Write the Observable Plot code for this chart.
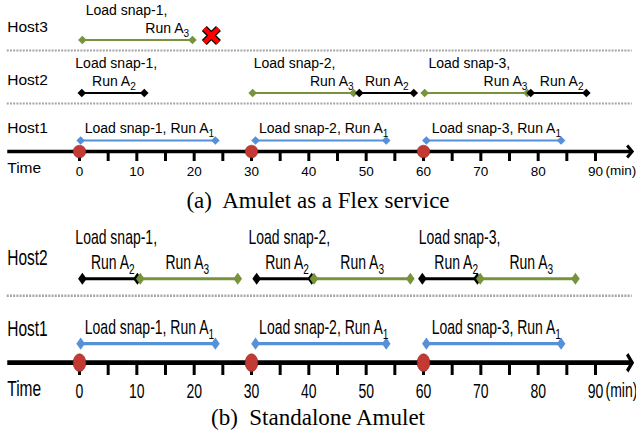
<!DOCTYPE html>
<html><head><meta charset="utf-8">
<script src="https://cdn.jsdelivr.net/npm/d3@7"></script>
<script src="https://cdn.jsdelivr.net/npm/@observablehq/plot@0.6"></script>
<style>
body{margin:0;background:#fff;width:636px;overflow:hidden;}
svg{display:block;}
.cap{font-family:"Liberation Serif","Times New Roman",serif;font-size:23px;text-align:center;height:27px;line-height:27px;white-space:pre;color:#000;}
</style></head>
<body>
<div id="a"></div>
<div class="cap">(a)  Amulet as a Flex service</div>
<div id="b"></div>
<div class="cap">(b)  Standalone Amulet</div>
<script>
// ---------- data ----------
const hostsA = ["Host3", "Host2", "Host1"];
const hostsB = ["Host2", "Host1"];
const tickMarks = [0, 5, 10, 15, 20, 25, 30, 35, 40, 45, 50, 55, 60, 65, 70, 75, 80, 85, 90];
const tickLabels = [0, 10, 20, 30, 40, 50, 60, 70, 80, 90];
const snapshotTimes = [0, 30, 60];
const failuresA = [{host: "Host3", t: 23}];

const segmentsA = [
  {host: "Host3", app: "A3", start: 0.5, end: 19.7},
  {host: "Host2", app: "A2", start: 0.4, end: 11.3},
  {host: "Host2", app: "A3", start: 30.2, end: 47.8},
  {host: "Host2", app: "A2", start: 48.8, end: 58.3},
  {host: "Host2", app: "A3", start: 60.2, end: 78.1},
  {host: "Host2", app: "A2", start: 78.7, end: 88.4},
  {host: "Host1", app: "A1", start: 0.2, end: 23.7},
  {host: "Host1", app: "A1", start: 30.7, end: 53.5},
  {host: "Host1", app: "A1", start: 60.5, end: 84.0}
];
const labelsA = [
  {host: "Host3", line: 1, t: 8.2, text: "Load snap-1,"},
  {host: "Host3", line: 2, t: 15.3, text: "Run A3"},
  {host: "Host2", line: 1, t: 6.4, text: "Load snap-1,"},
  {host: "Host2", line: 2, t: 6.0, text: "Run A2"},
  {host: "Host2", line: 1, t: 37.5, text: "Load snap-2,"},
  {host: "Host2", line: 2, t: 44.0, text: "Run A3"},
  {host: "Host2", line: 2, t: 53.6, text: "Run A2"},
  {host: "Host2", line: 1, t: 68.0, text: "Load snap-3,"},
  {host: "Host2", line: 2, t: 74.3, text: "Run A3"},
  {host: "Host2", line: 2, t: 84.1, text: "Run A2"},
  {host: "Host1", line: 2, t: 12.2, text: "Load snap-1, Run A1"},
  {host: "Host1", line: 2, t: 42.6, text: "Load snap-2, Run A1"},
  {host: "Host1", line: 2, t: 72.7, text: "Load snap-3, Run A1"}
];

const segmentsB = [
  {host: "Host2", app: "A2", start: 0.5, end: 10.1},
  {host: "Host2", app: "A3", start: 10.6, end: 27.6},
  {host: "Host2", app: "A2", start: 30.9, end: 40.5},
  {host: "Host2", app: "A3", start: 40.9, end: 57.7},
  {host: "Host2", app: "A2", start: 59.8, end: 69.4},
  {host: "Host2", app: "A3", start: 69.9, end: 86.5},
  {host: "Host1", app: "A1", start: 0.2, end: 23.7},
  {host: "Host1", app: "A1", start: 30.7, end: 53.5},
  {host: "Host1", app: "A1", start: 60.5, end: 84.0}
];
const labelsB = [
  {host: "Host2", line: 1, t: 6.4, text: "Load snap-1,"},
  {host: "Host2", line: 2, t: 5.8, text: "Run A2"},
  {host: "Host2", line: 2, t: 18.8, text: "Run A3"},
  {host: "Host2", line: 1, t: 36.6, text: "Load snap-2,"},
  {host: "Host2", line: 2, t: 36.2, text: "Run A2"},
  {host: "Host2", line: 2, t: 49.3, text: "Run A3"},
  {host: "Host2", line: 1, t: 66.3, text: "Load snap-3,"},
  {host: "Host2", line: 2, t: 65.7, text: "Run A2"},
  {host: "Host2", line: 2, t: 78.8, text: "Run A3"},
  {host: "Host1", line: 2, t: 12.2, text: "Load snap-1, Run A1"},
  {host: "Host1", line: 2, t: 42.6, text: "Load snap-2, Run A1"},
  {host: "Host1", line: 2, t: 72.7, text: "Load snap-3, Run A1"}
];

// ---------- styling ----------
const appColors = {domain: ["A1", "A2", "A3"], range: ["#5690D8", "#000000", "#77933C"]};
const X0 = -12.6, X1 = 96.4;
const FONT = "'Liberation Sans', Arial, sans-serif";

const diamond = {draw(ctx, size) { const r = Math.sqrt(size / Math.PI); ctx.moveTo(0, -r); ctx.lineTo(r, 0); ctx.lineTo(0, r); ctx.lineTo(-r, 0); ctx.closePath(); }};
const chevron = {draw(ctx, size) { const r = Math.sqrt(size / Math.PI); ctx.moveTo(-r, -r * 1.2); ctx.lineTo(0, 0); ctx.lineTo(-r, r * 1.2); }};

function subscripts(svg) {
  d3.select(svg).selectAll("text").each(function () {
    if (this.childElementCount) return;
    const m = /^(.*A)([0-9])$/.exec(this.textContent);
    if (!m) return;
    this.textContent = m[1];
    const ts = document.createElementNS("http://www.w3.org/2000/svg", "tspan");
    ts.setAttribute("font-size", "0.72em");
    ts.setAttribute("dy", "0.35em");
    ts.textContent = m[2];
    this.appendChild(ts);
  });
}

function panel({hosts, segments, labels, failures, height, yRange, marginBottom, o}) {
  const row = d => hosts.indexOf(d.host) + 1;
  const axisRow = hosts.length;
  const last = hosts[hosts.length - 1];
  const upper = d => d.host !== last;
  const lower = d => d.host === last;
  const ends = segments.flatMap(d => [{...d, t: d.start}, {...d, t: d.end}]);
  const hostObjs = hosts.map(h => ({host: h}));
  const marks = [
    Plot.ruleY(d3.range(1, axisRow), {x1: X0, x2: X1, stroke: "#a6a6a6", strokeWidth: o.sepW, strokeDasharray: "2 1.2"}),
    Plot.axisX({ticks: tickMarks, tickSize: o.tickSize, tickPadding: o.tickPad, fontSize: o.tickFont,
      tickFormat: d => tickLabels.includes(d) ? String(d) : "", strokeWidth: 3, stroke: "black", fill: "black"}),
    Plot.link([axisRow], {x1: X0, x2: X1 - 0.3, y1: d => d, y2: d => d, dy: o.axisDy, stroke: "black", strokeWidth: 3.5}),
    Plot.dot([axisRow], {x: X1, y: d => d, dy: o.axisDy, symbol: chevron, r: 5, stroke: "black", strokeWidth: 3, fill: "none", strokeLinejoin: "miter"}),
    Plot.text(["(min)"], {x: 90, y: axisRow, text: d => d, dx: 10, dy: o.minDy, textAnchor: "start", fontSize: o.tickFont, fill: "black"}),
    Plot.text(["Time"], {x: X0, y: axisRow, text: d => d, dy: o.timeDy, textAnchor: "start", fontSize: 15.5, fill: "black"}),
    Plot.text(hostObjs.filter(upper), {x: X0, y: row, text: "host", dy: o.upperHostDy, textAnchor: "start", fontSize: 15.5, fill: "black"}),
    Plot.text(hostObjs.filter(lower), {x: X0, y: row, text: "host", dy: o.lastHostDy, textAnchor: "start", fontSize: 15.5, fill: "black"}),
    Plot.link(segments.filter(upper), {x1: "start", x2: "end", y1: row, y2: row, stroke: "app", strokeWidth: 2.2, dy: o.upperLineDy}),
    Plot.link(segments.filter(lower), {x1: "start", x2: "end", y1: row, y2: row, stroke: "app", strokeWidth: 2.2, dy: o.lastLineDy}),
    Plot.dot(ends.filter(upper), {x: "t", y: row, fill: "app", symbol: diamond, r: 4.3, dy: o.upperLineDy}),
    Plot.dot(ends.filter(lower), {x: "t", y: row, fill: "app", symbol: diamond, r: 4.3, dy: o.lastLineDy}),
    Plot.dot(snapshotTimes, {x: d => d, y: axisRow, dy: o.axisDy, r: 6.3, fill: "#C23A33", stroke: "#9E2A25", strokeWidth: 0.6}),
    Plot.text(labels.filter(d => upper(d) && d.line === 1), {x: "t", y: row, text: "text", dy: o.line1Dy, fontSize: 14, fill: "black"}),
    Plot.text(labels.filter(d => upper(d) && d.line === 2), {x: "t", y: row, text: "text", dy: o.line2Dy, fontSize: 14, fill: "black"}),
    Plot.text(labels.filter(lower), {x: "t", y: row, text: "text", dy: o.lastTextDy, fontSize: 14, fill: "black"})
  ];
  if (failures) {
    marks.push(Plot.dot(failures, {x: "t", y: row, symbol: "times", r: 6.5, stroke: "black", strokeWidth: 7, dy: o.failDy}));
    marks.push(Plot.dot(failures, {x: "t", y: row, symbol: "times", r: 6.5, stroke: "#FF0000", strokeWidth: 4.6, dy: o.failDy}));
  }
  const svg = Plot.plot({
    width: 636, height, marginLeft: 79, marginRight: 41, marginTop: 0, marginBottom,
    x: {domain: [0, 90]},
    y: {domain: [0, axisRow], range: yRange, axis: null},
    color: appColors,
    style: {fontFamily: FONT, fontSize: "14px", background: "white", overflow: "visible"},
    marks
  });
  subscripts(svg);
  return svg;
}

const svgA = panel({
  hosts: hostsA, segments: segmentsA, labels: labelsA, failures: failuresA,
  height: 187, yRange: [-3, 156], marginBottom: 36,
  o: {sepW: 2, tickSize: 10, tickPad: 5, tickFont: 13.5, axisDy: -5, minDy: 14.5, timeDy: 12,
      upperHostDy: -23.5, lastHostDy: -28, upperLineDy: -10.5, lastLineDy: -16,
      line1Dy: -40, line2Dy: -22, lastTextDy: -28, failDy: -15}
});
document.getElementById("a").appendChild(svgA);

const S = 1.4, HB = 136;
const svgB = panel({
  hosts: hostsB, segments: segmentsB, labels: labelsB,
  height: HB, yRange: [10.1, 105.7], marginBottom: HB - 105.7,
  o: {sepW: 1.8, tickSize: 9.3, tickPad: 6, tickFont: 14, axisDy: 0, minDy: 20, timeDy: 18.6,
      upperHostDy: -27.2, lastHostDy: -24.3, upperLineDy: -12.2, lastLineDy: -13.6,
      line1Dy: -41.5, line2Dy: -23.6, lastTextDy: -25, failDy: 0}
});
svgB.setAttribute("viewBox", `0 0 636 ${HB}`);
svgB.setAttribute("preserveAspectRatio", "none");
svgB.setAttribute("height", HB * S);
svgB.style.height = (HB * S) + "px";
svgB.style.width = "636px";
svgB.style.maxWidth = "none";
document.getElementById("b").appendChild(svgB);
</script>
</body></html>
